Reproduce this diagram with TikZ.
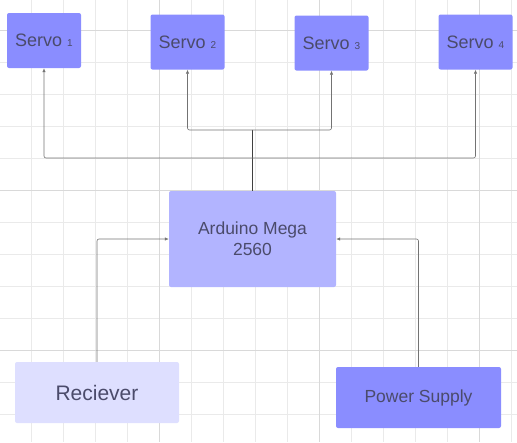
\documentclass[tikz,border=0pt]{standalone}
\usepackage{fontspec}
\setmainfont{Liberation Sans}
\usepackage{tikz}
\usetikzlibrary{arrows.meta}

\definecolor{servoblue}{HTML}{8A8DFF}
\definecolor{megablue}{HTML}{B2B4FF}
\definecolor{rxblue}{HTML}{DEDFFF}
\definecolor{labelgray}{HTML}{4B4B6B}
\definecolor{gridminor}{HTML}{EAEAEA}
\definecolor{gridmajor}{HTML}{D9D9D9}

\begin{document}
\begin{tikzpicture}[x=1pt,y=-1pt,
  block/.style={fill=#1,rounded corners=2pt,inner sep=0pt,
    text=labelgray,align=center},
  servo/.style={block=servoblue,minimum width=74pt,minimum height=55pt,
    font=\fontsize{18}{21}\selectfont},
  wire/.style={draw=black!55,line width=0.6pt,rounded corners=2pt},
  feed/.style={wire,-{Latex[length=4pt,width=3.5pt]}}]
\useasboundingbox (0,0) rectangle (517,442);

% grid
\foreach \gx in {31,63,...,511}
  \draw[gridminor,line width=0.6pt] (\gx,0) -- (\gx,442);
\foreach \gy in {30,62,...,414}
  \draw[gridminor,line width=0.6pt] (0,\gy) -- (517,\gy);
\foreach \gx in {159,319,479}
  \draw[gridmajor,line width=0.6pt] (\gx,0) -- (\gx,442);
\foreach \gy in {30,190,350}
  \draw[gridmajor,line width=0.6pt] (0,\gy) -- (517,\gy);

% blocks
\node[servo] (servo1) at (44,40.5) {Servo {\fontsize{10}{12}\selectfont 1}};
\node[servo] (servo2) at (187.5,42) {Servo {\fontsize{10}{12}\selectfont 2}};
\node[servo] (servo3) at (331.5,43) {Servo {\fontsize{10}{12}\selectfont 3}};
\node[servo] (servo4) at (475.5,42) {Servo {\fontsize{10}{12}\selectfont 4}};

\node[block=megablue,minimum width=167pt,minimum height=96pt,
  font=\fontsize{17.5}{21}\selectfont] (mega) at (252.5,239)
  {Arduino Mega\\2560};
\node[block=rxblue,minimum width=164pt,minimum height=61pt,
  font=\fontsize{21}{24}\selectfont] (rx) at (97,392.5) {Reciever};
\node[block=servoblue,minimum width=165pt,minimum height=61pt,
  font=\fontsize{17.5}{21}\selectfont] (psu) at (418.5,397.5) {Power Supply};

% wiring
\coordinate (split a) at (252,130);
\coordinate (split b) at (252,158);
\draw[draw=black!75,line width=0.8pt] (mega.north -| split a) -- (split a);
\draw[feed] (split b) -| (servo1.south);
\draw[feed] (split b) -| (servo4.south);
\draw[feed] (split a) -| (servo2.south);
\draw[feed] (split a) -| (servo3.south);

\draw[feed] (rx.north) |- (mega.west);
\draw[feed] (psu.north) |- (mega.east);

\end{tikzpicture}
\end{document}
